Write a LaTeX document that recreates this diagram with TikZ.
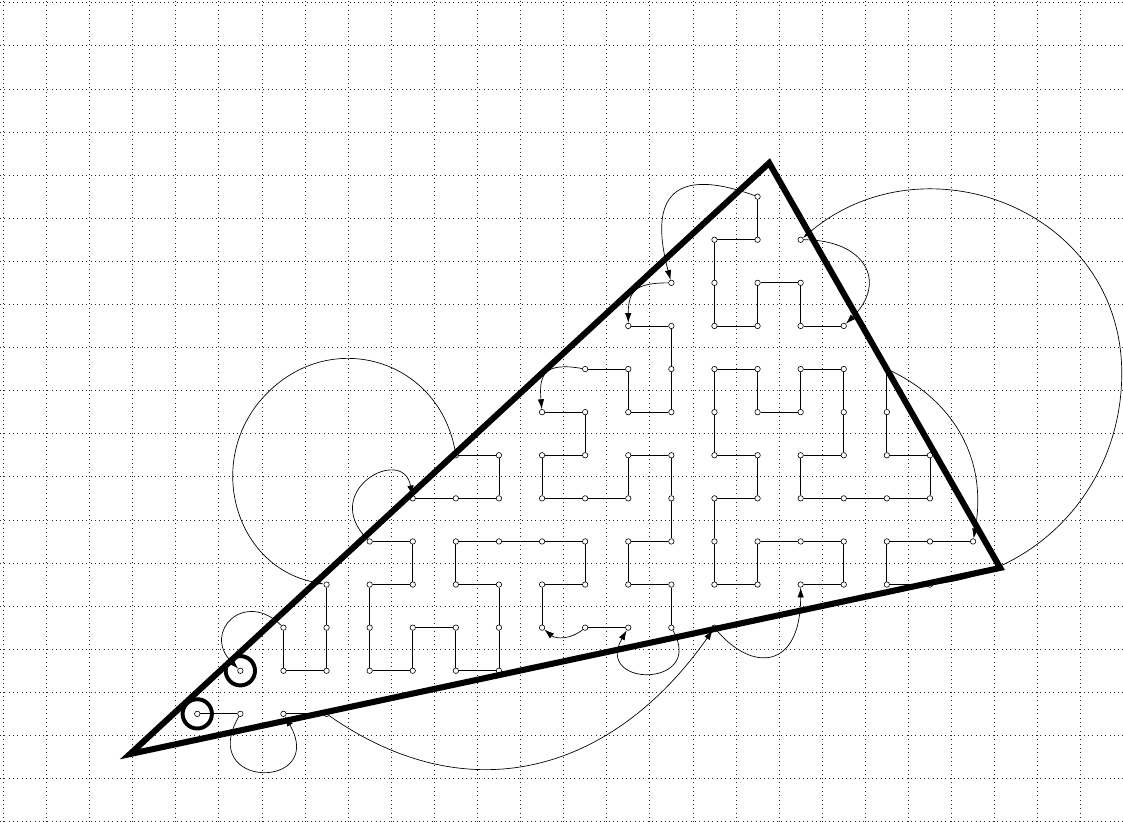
\documentclass[tikz,border=0pt]{standalone}
\usetikzlibrary{arrows.meta}
\begin{document}
\begin{tikzpicture}[
  gridline/.style={black!85, line width=0.45pt, dash pattern=on 0.45pt off 2.4pt},
  dotnode/.style={circle, draw, line width=0.4pt, inner sep=0pt, minimum size=3.6pt},
  seg/.style={line width=0.55pt},
  hop/.style={line width=0.45pt, -{Latex[length=6.5pt,width=4.2pt]}},
  tri/.style={line width=4pt, line join=miter},
  ring/.style={line width=2.6pt}
]
\useasboundingbox (-0.0766,0.0626) rectangle (25.979,-19.009);
\draw[gridline] (-0.0766,0.0626) grid (25.979,-19.009);

% nodes (column i, row j) at (i+0.5, -(j+0.5))
\foreach \i in {17} \node[dotnode] (n\i-4) at (\i+0.5,-4.5) {};
\foreach \i in {16,...,18} \node[dotnode] (n\i-5) at (\i+0.5,-5.5) {};
\foreach \i in {15,...,18} \node[dotnode] (n\i-6) at (\i+0.5,-6.5) {};
\foreach \i in {14,...,19} \node[dotnode] (n\i-7) at (\i+0.5,-7.5) {};
\foreach \i in {13,...,20} \node[dotnode] (n\i-8) at (\i+0.5,-8.5) {};
\foreach \i in {12,...,20} \node[dotnode] (n\i-9) at (\i+0.5,-9.5) {};
\foreach \i in {10,...,21} \node[dotnode] (n\i-10) at (\i+0.5,-10.5) {};
\foreach \i in {9,...,21} \node[dotnode] (n\i-11) at (\i+0.5,-11.5) {};
\foreach \i in {8,...,22} \node[dotnode] (n\i-12) at (\i+0.5,-12.5) {};
\foreach \i in {7,...,21} \node[dotnode] (n\i-13) at (\i+0.5,-13.5) {};
\foreach \i in {6,...,16} \node[dotnode] (n\i-14) at (\i+0.5,-14.5) {};
\foreach \i in {5,...,11} \node[dotnode] (n\i-15) at (\i+0.5,-15.5) {};
\foreach \i in {4,...,7} \node[dotnode] (n\i-16) at (\i+0.5,-16.5) {};

% straight runs
\draw[seg] (n4-16) -- (n5-16);
\draw[seg] (n6-16) -- (n7-16);
\draw[seg] (n18-13) -- (n19-13) -- (n19-12) -- (n18-12) -- (n17-12) -- (n17-13) -- (n16-13) -- (n16-12) -- (n16-11) -- (n17-11) -- (n17-10) -- (n16-10) -- (n16-9) -- (n16-8) -- (n17-8) -- (n17-9) -- (n18-9) -- (n18-8) -- (n19-8) -- (n19-9) -- (n19-10) -- (n18-10) -- (n18-11) -- (n19-11) -- (n20-11) -- (n21-11) -- (n21-10) -- (n20-10) -- (n20-9) -- (n20-8);
\draw[seg] (n22-12) -- (n21-12) -- (n20-12) -- (n20-13) -- (n21-13);
\draw[seg] (n19-7) -- (n18-7) -- (n18-6) -- (n17-6) -- (n17-7) -- (n16-7) -- (n16-6) -- (n16-5) -- (n17-5) -- (n17-4);
\draw[seg] (n14-7) -- (n15-7) -- (n15-8) -- (n15-9) -- (n14-9) -- (n14-8) -- (n13-8);
\draw[seg] (n12-9) -- (n13-9) -- (n13-10) -- (n12-10) -- (n12-11) -- (n13-11) -- (n14-11) -- (n14-10) -- (n15-10) -- (n15-11) -- (n15-12) -- (n14-12) -- (n14-13) -- (n15-13) -- (n15-14);
\draw[seg] (n14-14) -- (n13-14);
\draw[seg] (n12-14) -- (n12-13) -- (n13-13) -- (n13-12) -- (n12-12) -- (n11-12) -- (n10-12) -- (n10-13) -- (n11-13) -- (n11-14) -- (n11-15) -- (n10-15) -- (n10-14) -- (n9-14) -- (n9-15) -- (n8-15) -- (n8-14) -- (n8-13) -- (n9-13) -- (n9-12) -- (n8-12);
\draw[seg] (n9-11) -- (n10-11) -- (n11-11) -- (n11-10) -- (n10-10);
\draw[seg] (n7-13) -- (n7-14) -- (n7-15) -- (n6-15) -- (n6-14);

% helper points on the two large loops
\coordinate (loopR) at (25.95,-8.6);
\coordinate (loopL) at (6.13,-9.05);

% jumps
\draw[hop] (n5-16) to[out=-120,in=-60,distance=1.97cm] (n6-16);
\draw[hop] (n7-16) to[out=-35,in=-125,distance=4cm] (n16-14);
\draw[hop] (n16-14) to[out=-50,in=-90,out distance=1.3cm,in distance=1.9cm] (n18-13);
\draw[hop] (n20-8) to[out=-25,in=80,out distance=1.5cm,in distance=2cm] (n22-12);
\draw[hop] (n21-13) to[out=6,in=-90,out distance=2.6cm,in distance=2.5cm] (loopR)
                    to[out=90,in=40,out distance=3.8cm,in distance=3.7cm] (n18-5);
\draw[hop] (n18-5) to[out=0,in=45,distance=1.4cm] (n19-7);
\draw[hop] (n17-4) to[out=160,in=105,out distance=2.2cm,in distance=1.8cm] (n15-6);
\draw[hop] (n15-6) to[out=180,in=90,distance=0.75cm] (n14-7);
\draw[hop] (n13-8) to[out=170,in=95,out distance=0.9cm,in distance=0.8cm] (n12-9);
\draw[hop] (n15-14) to[out=-60,in=-120,distance=1.55cm] (n14-14);
\draw[hop] (n13-14) to[out=-140,in=-40,distance=0.35cm] (n12-14);
\draw[hop] (n8-12) to[out=135,in=100,out distance=1.6cm,in distance=1.2cm] (n9-11);
\draw[hop] (n10-10) to[out=99.5,in=45,distance=2.16cm] (loopL)
                    to[out=225,in=169,distance=2.12cm] (n7-13);
\draw[hop] (n6-14) to[out=135,in=135,distance=1.2cm] (n5-15);

% triangle
\coordinate (A) at (2.94,-17.432);
\coordinate (B) at (17.77,-3.719);
\coordinate (C) at (23.13,-13.114);
\draw[tri] (A) -- (B) -- (C) -- cycle;

% start / end rings
\draw[ring] (n4-16) circle[radius=0.34];
\draw[ring] (n5-15) circle[radius=0.34];
\end{tikzpicture}
\end{document}
